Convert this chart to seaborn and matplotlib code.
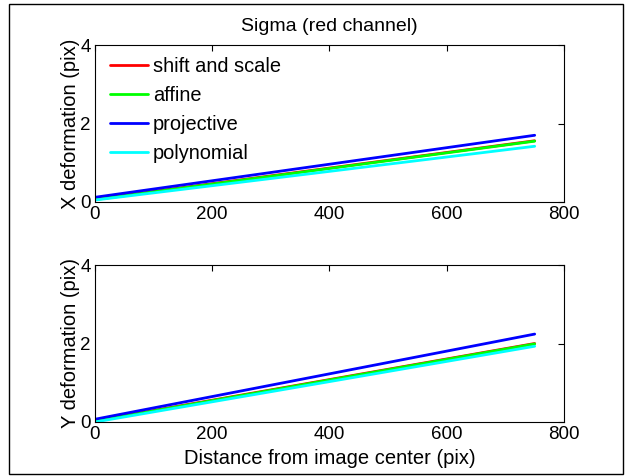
import matplotlib
matplotlib.use("Agg")
import matplotlib.pyplot as plt
import seaborn as sns
import pandas as pd
from matplotlib.patches import Rectangle

sns.set_theme(style="white")
plt.rcParams['font.family'] = ['Liberation Sans', 'DejaVu Sans']
plt.rcParams['text.color'] = 'black'
plt.rcParams['axes.labelcolor'] = 'black'

distance = [0, 750]
methods = ["shift and scale", "affine", "projective", "polynomial"]
colors = ["#ff0000", "#00ff00", "#0000ff", "#00ffff"]
x_def = {
    "shift and scale": [0.07, 1.56],
    "affine": [0.06, 1.55],
    "projective": [0.12, 1.70],
    "polynomial": [0.05, 1.42],
}
y_def = {
    "shift and scale": [0.03, 2.00],
    "affine": [0.02, 1.99],
    "projective": [0.07, 2.24],
    "polynomial": [0.00, 1.93],
}

def frame(d):
    rows = []
    for m in methods:
        for xv, yv in zip(distance, d[m]):
            rows.append({"dist": xv, "val": yv, "method": m})
    return pd.DataFrame(rows)

W, H = 631, 476
fig = plt.figure(figsize=(W/100, H/100), dpi=100)
ax1 = fig.add_axes([95/W, 1-202/H, 469/W, 157/H])
ax2 = fig.add_axes([95/W, 1-422/H, 469/W, 157/H])

pal = dict(zip(methods, colors))
for ax, d, lab in [(ax1, x_def, "X deformation (pix)"), (ax2, y_def, "Y deformation (pix)")]:
    sns.lineplot(data=frame(d), x="dist", y="val", hue="method", palette=pal,
                 hue_order=methods, ax=ax, linewidth=2, legend=(ax is ax1))
    ax.set_xlim(0, 800)
    ax.set_ylim(0, 4)
    ax.set_xticks([0, 200, 400, 600, 800])
    ax.set_yticks([0, 2, 4])
    ax.tick_params(direction="in", top=True, right=True, length=4, width=0.8,
                   labelsize=13.5, colors="black", pad=3)
    for s in ax.spines.values():
        s.set_color("black")
        s.set_linewidth(0.8)
    ax.set_ylabel(lab, fontsize=14.5, color="black", labelpad=0)
    ax.set_xlabel("")

ax2.set_xlabel("Distance from image center (pix)", fontsize=14.5, color="black", labelpad=4)
ax1.set_title("Sigma (red channel)", fontsize=14, color="black", pad=10)

leg = ax1.legend(loc="upper left", frameon=False, fontsize=14.4, handlelength=1.9,
                 handletextpad=0.25, labelspacing=0.5, borderaxespad=0, borderpad=0,
                 bbox_to_anchor=(15/469, 1-12/157), labelcolor="black")
leg.set_title(None)

fig.patches.append(Rectangle((9/W, 1-474/H), 614/W, 470/H, transform=fig.transFigure,
                             fill=False, edgecolor="black", linewidth=1))

fig.savefig("out.png", dpi=100)
